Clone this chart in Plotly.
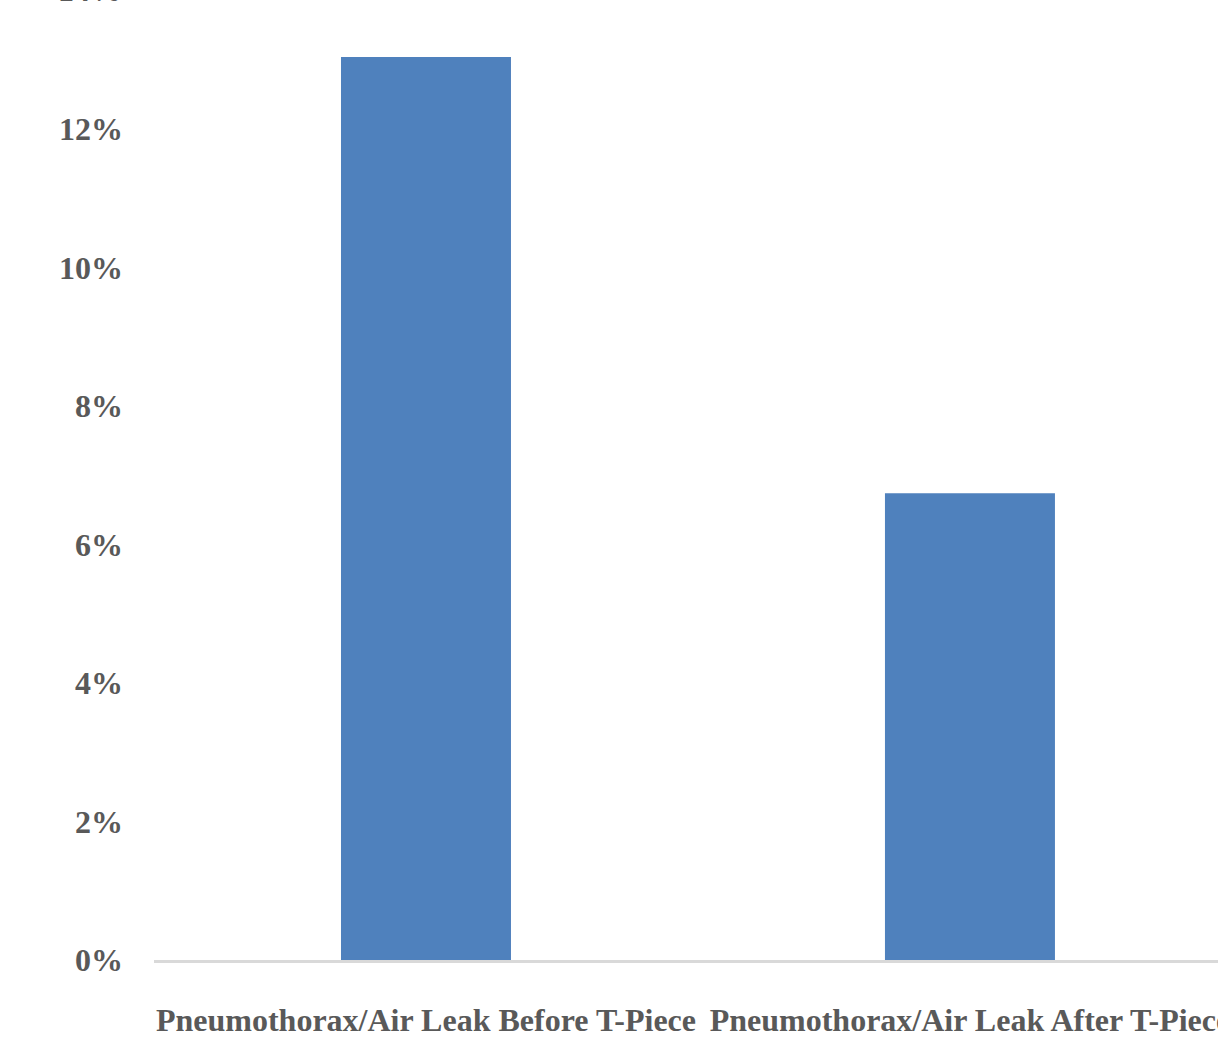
import plotly.graph_objects as go

categories = ["Pneumothorax/Air Leak Before T-Piece", "Pneumothorax/Air Leak After T-Piece"]
values = [0.1304, 0.0674]
tick_vals = [0, 0.02, 0.04, 0.06, 0.08, 0.10, 0.12]
top_tick_label = "14%"
top_tick_value = 0.14

Y_MAX = 0.138628
GREY = "#595959"
FONT = dict(family="Liberation Serif, Times New Roman, serif", size=32, color=GREY, weight="bold")

fig = go.Figure(go.Bar(
    x=categories, y=values,
    marker=dict(color="#4F81BD", line=dict(width=0)),
))

fig.update_layout(
    width=1218, height=1052,
    margin=dict(l=154, r=0, t=0, b=92, autoexpand=False),
    paper_bgcolor="white", plot_bgcolor="white",
    bargap=0.6875,
    showlegend=False,
    font=FONT,
)
fig.update_xaxes(
    range=[-0.5, 1.456], automargin=False,
    showline=True, linecolor="#D9D9D9", linewidth=3,
    showgrid=False, zeroline=False,
    tickangle=0, ticks="",
    tickfont=FONT, ticklabelstandoff=30,
)
fig.update_yaxes(
    range=[0, Y_MAX], automargin=False,
    tickvals=tick_vals, tickformat=".0%",
    showgrid=False, zeroline=False, showline=False, ticks="",
    tickfont=FONT, ticklabelstandoff=30,
)
fig.add_annotation(
    text=top_tick_label, xref="paper", x=0, xshift=-30, xanchor="right",
    yref="paper", y=top_tick_value / Y_MAX, yanchor="middle",
    showarrow=False, font=FONT,
)

fig.write_html(
    "out.html",
    config={"displayModeBar": False},
    post_script="document.body.style.margin='0';document.body.style.overflow='hidden';",
)
